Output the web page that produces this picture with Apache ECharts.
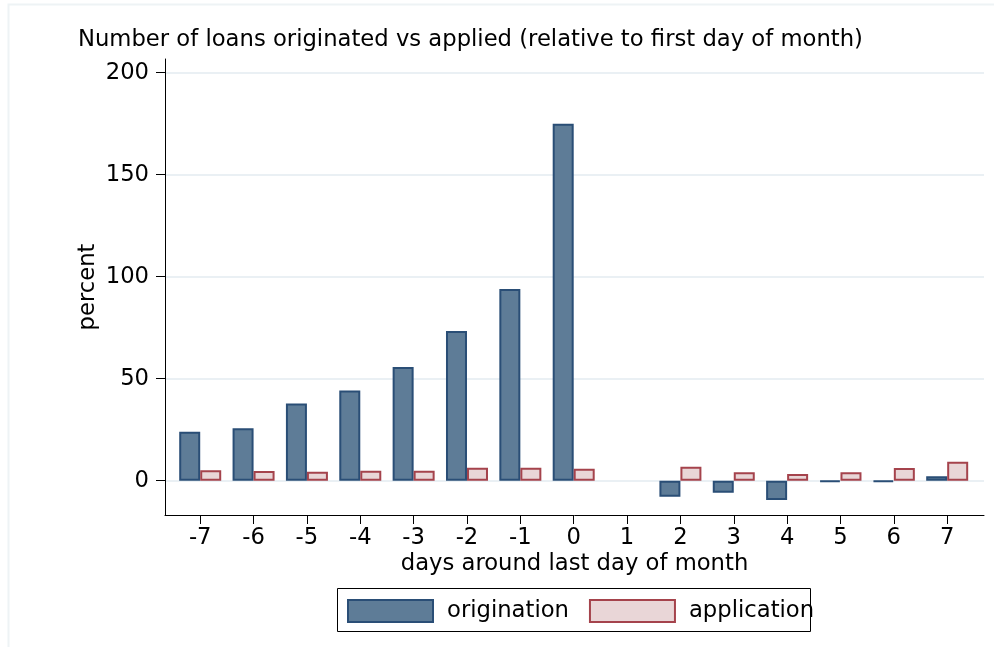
<!DOCTYPE html>
<html>
<head>
<meta charset="utf-8">
<script src="https://cdn.jsdelivr.net/npm/echarts@6/dist/echarts.min.js"></script>
<style>
html, body { margin: 0; padding: 0; background: #fff; }
#chart { width: 994px; height: 647px; }
</style>
</head>
<body>
<div id="chart"></div>
<script>
// days around last day of month
const days = [-7, -6, -5, -4, -3, -2, -1, 0, 1, 2, 3, 4, 5, 6, 7]
// percent change (day 1 has no bars)
const origination = [24.0, 25.7, 37.9, 44.2, 55.7, 73.4, 94.0, 175.0, null, -7.8, -5.9, -9.5, -0.6, -0.6, 2.2]
const application = [5.1, 4.8, 4.4, 4.9, 4.9, 6.4, 6.4, 5.9, null, 6.9, 4.1, 3.3, 4.1, 6.2, 9.3]
const yTicks = [0, 50, 100, 150, 200]

const font = 'DejaVu Sans'
const fs = 22.7

const toPairs = vals => days.map((d, i) => vals[i] == null ? null : [d, vals[i]]).filter(p => p)

const chart = echarts.init(document.getElementById('chart'))

chart.setOption({
    animation: false,
    title: {
        text: 'Number of loans originated vs applied (relative to first day of month)',
        left: 78,
        top: 29,
        padding: 0,
        textStyle: { fontFamily: font, fontSize: fs, fontWeight: 'normal', color: '#000' }
    },
    legend: {
        left: 347,
        top: 599,
        icon: 'rect',
        itemWidth: 85,
        itemHeight: 22,
        itemGap: 20,
        padding: 0,
        textStyle: { fontFamily: font, fontSize: fs, color: '#000', padding: [0, 0, 0, 9] },
        data: ['origination', 'application']
    },
    graphic: [
        {
            // faint outer frame of the graph region
            type: 'rect',
            shape: { x: 8.5, y: 4.5, width: 1000, height: 700 },
            style: { fill: 'none', stroke: '#eef3f5', lineWidth: 2 },
            z: -1
        },
        {
            type: 'rect',
            shape: { x: 337.5, y: 588.5, width: 473, height: 43 },
            style: { fill: 'none', stroke: '#000', lineWidth: 1 },
            z: 10
        }
    ],
    grid: { left: 165, right: 10, top: 59, bottom: 132 },
    xAxis: {
        type: 'value',
        min: -7.66,
        max: 7.69,
        name: 'days around last day of month',
        nameLocation: 'middle',
        nameGap: 38,
        nameMoveOverlap: false,
        nameTextStyle: { fontFamily: font, fontSize: fs, color: '#000' },
        axisLine: { onZero: false, lineStyle: { color: '#000', width: 1 } },
        axisTick: { show: true, length: 9, lineStyle: { color: '#000' }, customValues: days },
        axisLabel: { fontFamily: font, fontSize: fs, color: '#000', margin: 12, customValues: days },
        splitLine: { show: false }
    },
    yAxis: {
        type: 'value',
        min: -16.8,
        max: 206.7,
        name: 'percent',
        nameLocation: 'middle',
        nameGap: 65,
        nameMoveOverlap: false,
        nameTextStyle: { fontFamily: font, fontSize: fs, color: '#000' },
        axisLine: { show: true, onZero: false, lineStyle: { color: '#000', width: 1 } },
        axisTick: { show: true, length: 9, lineStyle: { color: '#000' }, customValues: yTicks },
        axisLabel: { fontFamily: font, fontSize: fs, color: '#000', margin: 16, customValues: yTicks },
        splitLine: { show: true, lineStyle: { color: '#eaf0f4', width: 2 } }
    },
    series: [
        {
            name: 'origination',
            type: 'bar',
            barWidth: 21,
            barGap: '0%',
            itemStyle: { color: '#5e7c97', borderColor: '#2a4e76', borderWidth: 2 },
            data: toPairs(origination)
        },
        {
            name: 'application',
            type: 'bar',
            barWidth: 21,
            barGap: '0%',
            itemStyle: { color: '#e9d6d7', borderColor: '#a5434c', borderWidth: 2 },
            data: toPairs(application)
        }
    ]
})
</script>
</body>
</html>
